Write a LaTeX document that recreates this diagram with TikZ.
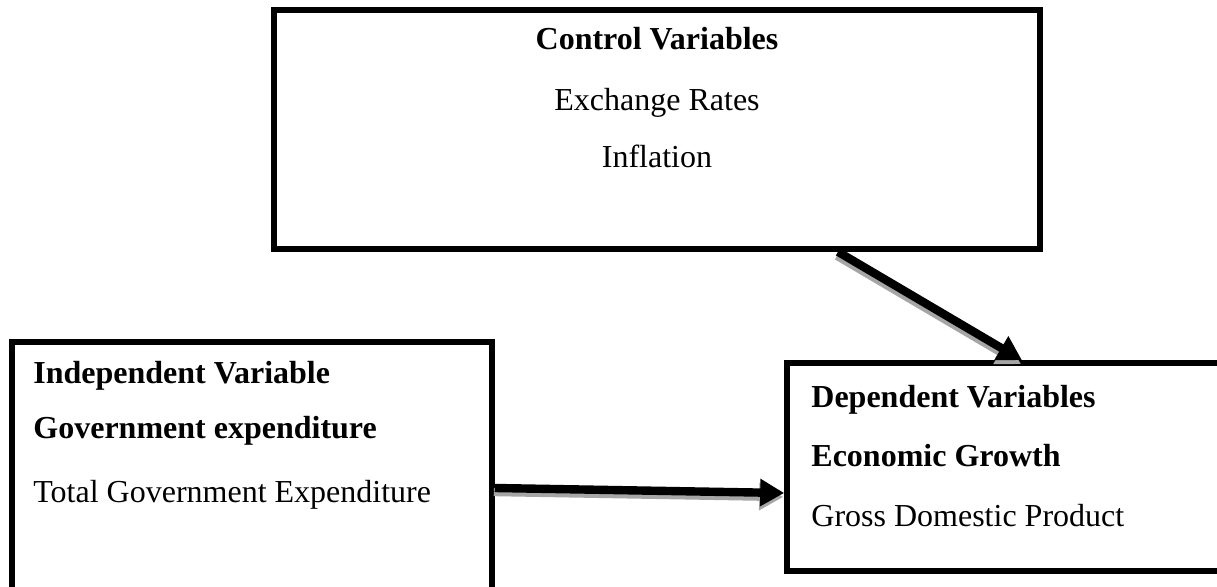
\documentclass[tikz,border=0pt]{standalone}
\usepackage{fontspec}
\setmainfont{Liberation Serif}
\usetikzlibrary{arrows.meta}
\begin{document}
\begin{tikzpicture}[x=0.5pt,y=-0.5pt,
  box/.style={draw,line width=2.8pt,inner sep=0pt},
  txt/.style={anchor=base west,inner sep=0pt,font=\fontsize{16}{19}\selectfont},
  head/.style={txt,font=\fontsize{16}{19}\selectfont\bfseries},
  link/.style={line width=4.2pt,-{Triangle[length=12pt,width=13pt]}},
  linkshadow/.style={link,black!35,transform canvas={shift={(-0.5pt,-2pt)}}}]
  \clip (0,0) rectangle (1217,587);
  \useasboundingbox (0,0) rectangle (1217,587);
  \node [box,minimum width=383pt,minimum height=119.5pt] (ctrl) at (657,129.5) {};
  \node [box,minimum width=240pt,minimum height=129pt] (indep) at (252,471) {};
  \node [box,minimum width=221.5pt,minimum height=104pt] (dep) at (1008.5,467) {};
  \node [head,anchor=base] (c1) at (657,50) {Control Variables};
  \node [txt,anchor=base] (c2) at (657,111) {Exchange Rates};
  \node [txt,anchor=base] (c3) at (657,168) {Inflation};
  \node [head] (i1) at (33,384) {Independent Variable};
  \node [head] (i2) at (33,439) {Government expenditure};
  \node [txt]  (i3) at (33,503) {Total Government Expenditure};
  \node [head] (d1) at (811,408) {Dependent Variables};
  \node [head] (d2) at (811,467) {Economic Growth};
  \node [txt]  (d3) at (811,527) {Gross Domestic Product};
  \draw [linkshadow] ([yshift=-8.5pt]indep.east) -- ([yshift=-13pt]dep.west);
  \draw [link] ([yshift=-8.5pt]indep.east) -- ([yshift=-13pt]dep.west);
  \draw [linkshadow] ([xshift=90.5pt]ctrl.south) -- ([xshift=6.75pt]dep.north);
  \draw [link] ([xshift=90.5pt]ctrl.south) -- ([xshift=6.75pt]dep.north);
\end{tikzpicture}
\end{document}
